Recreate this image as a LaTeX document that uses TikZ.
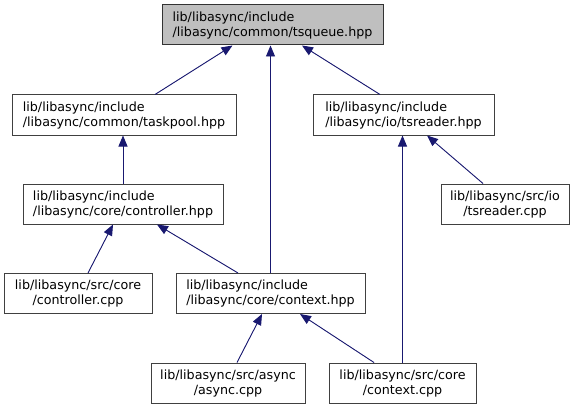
\documentclass[tikz,border=0pt]{standalone}
\usepackage{fontspec}
\setmainfont{DejaVu Sans}
\usepackage{tikz}
\usetikzlibrary{arrows.meta, positioning, calc}
\definecolor{edgeblue}{RGB}{25, 25, 112}
\definecolor{boxline}{RGB}{64, 64, 64}
\definecolor{rootgray}{RGB}{191, 191, 191}

\begin{document}
\begin{tikzpicture}[
        x=1pt, y=-1pt,
        file/.style={draw=boxline, line width=1pt, fill=white, minimum height=40pt,
                    inner sep=0pt, font=\fontsize{12.7}{15}\selectfont},
        hdr/.style={file, align=left},
        src/.style={file, align=center},
        root/.style={hdr, fill=rootgray, draw=black!80},
        dep/.style={-{Triangle[length=11pt, width=9pt]}, draw=edgeblue, fill=edgeblue, line width=0.9pt},
    ]
        \useasboundingbox (0,0) rectangle (575,409);

        \node[root, minimum width=221pt] (tsqueue) at (272.5,25) {lib/libasync/include\\/libasync/common/tsqueue.hpp};
        \node[hdr, minimum width=224pt] (taskpool) at (124,115) {lib/libasync/include\\/libasync/common/taskpool.hpp};
        \node[hdr, minimum width=181pt] (tsreaderh) at (403.5,115) {lib/libasync/include\\/libasync/io/tsreader.hpp};
        \node[hdr, minimum width=200pt] (controllerh) at (123,204) {lib/libasync/include\\/libasync/core/controller.hpp};
        \node[src, minimum width=128pt] (tsreadercpp) at (505,204) {lib/libasync/src/io\\/tsreader.cpp};
        \node[src, minimum width=148pt] (controllercpp) at (78,293.5) {lib/libasync/src/core\\/controller.cpp};
        \node[hdr, minimum width=189pt] (contexth) at (270.5,293.5) {lib/libasync/include\\/libasync/core/context.hpp};
        \node[src, minimum width=154pt] (asynccpp) at (228,383) {lib/libasync/src/async\\/async.cpp};
        \node[src, minimum width=147pt] (contextcpp) at (402.5,383) {lib/libasync/src/core\\/context.cpp};

        % who includes whom
        \draw[dep] ([xshift=31pt]taskpool.north) -- ([xshift=-40pt]tsqueue.south);
        \draw[dep] (contexth.north) -- (contexth.north |- tsqueue.south);
        \draw[dep] ([xshift=-23.5pt]tsreaderh.north) -- ([xshift=29.5pt]tsqueue.south);
        \draw[dep] (controllerh.north) -- (controllerh.north |- taskpool.south);
        \draw[dep] ([xshift=-22pt]tsreadercpp.north) -- ([xshift=23.5pt]tsreaderh.south);
        \draw[dep] (contextcpp.north) -- (contextcpp.north |- tsreaderh.south);
        \draw[dep] ([xshift=10pt]controllercpp.north) -- ([xshift=-10pt]controllerh.south);
        \draw[dep] ([xshift=-32.5pt]contexth.north) -- ([xshift=34pt]controllerh.south);
        \draw[dep] ([xshift=9pt]asynccpp.north) -- ([xshift=-8.5pt]contexth.south);
        \draw[dep] ([xshift=-28.5pt]contextcpp.north) -- ([xshift=29.5pt]contexth.south);
    \end{tikzpicture}
\end{document}
